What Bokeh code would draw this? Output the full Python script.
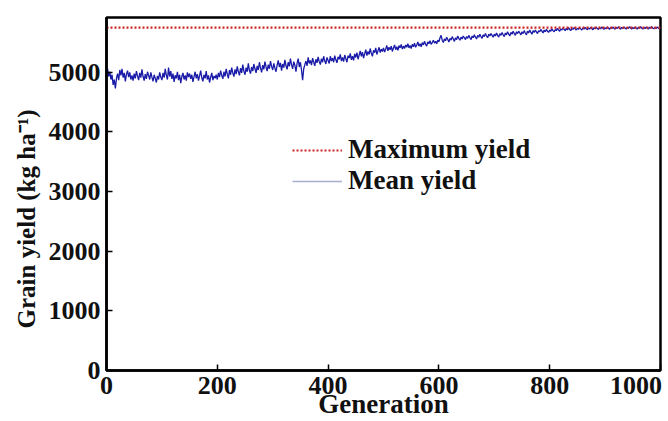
from bokeh.plotting import figure
from bokeh.models import Range1d, FixedTicker, Legend, LegendItem
from bokeh.embed import file_html
from bokeh.resources import INLINE

# ---- data ----
step = 2
mean_yield = [
    4990, 5060, 4930, 5010, 4880, 4960, 4790, 4880, 4730, 4900, 4980, 4870, 5040, 4950, 5060, 4910, 4990, 4850, 4970, 5030, 4920, 5000, 4880, 4950, 4860,
    4980, 4900, 5020, 4940, 4870, 4990, 4910, 5050, 4930, 4860, 4970, 4890, 5010, 4950, 4880, 5000, 4920, 4850, 4960, 4900, 4830, 4940, 4880, 5000, 4920,
    4870, 4990, 4910, 5060, 4950, 4880, 5080, 4930, 5020, 4890, 4980, 4840, 4950, 4900, 5010, 4870, 4960, 4820, 4930, 4990, 4880, 4950, 4860, 5000, 4920,
    4980, 4890, 4960, 4840, 4930, 5010, 4900, 4970, 4860, 4940, 5030, 4910, 4850, 4960, 4900, 5020, 4880, 4950, 4830, 4920, 4990, 4870, 4940, 4900, 4960,
    4880, 4990, 4920, 5030, 4950, 4890, 5010, 4930, 5060, 4970, 4900, 5040, 4960, 5080, 4990, 4930, 5050, 4970, 5100, 5010, 4950, 5070, 4990, 5130, 5020,
    4960, 5080, 5010, 5150, 5030, 4980, 5090, 5020, 5140, 5060, 4990, 5110, 5040, 5170, 5070, 5000, 5120, 5050, 5180, 5090, 5020, 5130, 5060, 5190, 5100,
    5040, 5150, 5070, 5010, 5120, 5200, 5090, 5160, 5030, 5140, 5080, 5210, 5110, 5050, 5170, 5100, 5230, 5130, 5060, 5180, 5120, 5010, 5150, 5230, 5090,
    5170, 5040, 4870, 5060, 5130, 5190, 5110, 5250, 5150, 5200, 5120, 5240, 5170, 5110, 5220, 5160, 5260, 5180, 5130, 5230, 5170, 5270, 5190, 5140, 5250,
    5200, 5150, 5270, 5190, 5240, 5170, 5280, 5210, 5160, 5260, 5220, 5300, 5190, 5250, 5180, 5290, 5230, 5170, 5280, 5240, 5320, 5210, 5270, 5200, 5310,
    5250, 5330, 5220, 5290, 5360, 5270, 5340, 5240, 5310, 5380, 5280, 5350, 5300, 5400, 5320, 5270, 5370, 5330, 5410, 5300, 5360, 5420, 5330, 5390, 5350,
    5410, 5340, 5390, 5450, 5360, 5420, 5380, 5440, 5350, 5410, 5460, 5380, 5430, 5370, 5450, 5410, 5470, 5390, 5440, 5400, 5460, 5420, 5480, 5410, 5450,
    5400, 5470, 5430, 5490, 5420, 5460, 5510, 5440, 5480, 5430, 5500, 5460, 5520, 5470, 5440, 5510, 5480, 5530, 5470, 5500, 5540, 5490, 5520, 5480, 5540,
    5510, 5580, 5620, 5540, 5500, 5560, 5530, 5590, 5550, 5510, 5570, 5540, 5600, 5560, 5520, 5580, 5550, 5610, 5570, 5540, 5590, 5560, 5610, 5580, 5550,
    5600, 5570, 5620, 5580, 5550, 5610, 5580, 5630, 5590, 5560, 5620, 5590, 5640, 5600, 5570, 5630, 5600, 5650, 5610, 5580, 5640, 5610, 5650, 5620, 5590,
    5640, 5610, 5660, 5620, 5590, 5650, 5620, 5670, 5630, 5600, 5660, 5630, 5680, 5640, 5610, 5670, 5640, 5690, 5650, 5620, 5680, 5650, 5690, 5660, 5630,
    5680, 5650, 5700, 5660, 5630, 5690, 5660, 5710, 5670, 5640, 5700, 5670, 5710, 5680, 5650, 5700, 5680, 5720, 5690, 5660, 5710, 5680, 5720, 5690, 5670,
    5710, 5690, 5730, 5700, 5680, 5720, 5700, 5740, 5710, 5690, 5730, 5710, 5740, 5720, 5700, 5740, 5710, 5750, 5720, 5700, 5740, 5720, 5750, 5730, 5710,
    5740, 5720, 5750, 5730, 5710, 5745, 5725, 5755, 5730, 5715, 5745, 5725, 5755, 5735, 5715, 5750, 5730, 5760, 5735, 5720, 5750, 5730, 5760, 5740, 5720,
    5750, 5730, 5760, 5740, 5720, 5755, 5735, 5760, 5740, 5725, 5755, 5735, 5765, 5740, 5725, 5755, 5735, 5760, 5745, 5725, 5755, 5735, 5765, 5745, 5725,
    5755, 5735, 5760, 5745, 5725, 5755, 5740, 5765, 5745, 5725, 5755, 5735, 5760, 5745, 5725, 5755, 5740, 5765, 5745, 5730, 5755, 5735, 5760, 5745, 5730,
    5750,
]
generations = [i * step for i in range(len(mean_yield))]
max_yield_value = 5750
max_gen = [0, 1000]
max_yield = [max_yield_value, max_yield_value]

x_ticks = [0, 200, 400, 600, 800, 1000]
y_ticks = [0, 1000, 2000, 3000, 4000, 5000]

FONT = "Liberation Serif"
TICK_FS = "26px"
LABEL_FS = "27px"
NBSP = "\u00a0"

p = figure(width=668, height=421, output_backend="svg", toolbar_location=None,
           x_range=Range1d(0, 1000), y_range=Range1d(0, 5920),
           min_border_left=106, min_border_top=17, min_border_right=8, min_border_bottom=49)

p.line(generations, mean_yield, line_color="#1a1aa8", line_width=1.3)
p.line(max_gen, max_yield, line_color="#cc2222", line_width=2.2, line_dash="2 2")

# legend sample glyphs (no visible data) styled as in the legend
nan = float("nan")
r_max = p.line([nan], [nan], line_color="#cc2222", line_width=2, line_dash="2 2")
r_mean = p.line([nan], [nan], line_color="#a8aed0", line_width=1.5)
legend = Legend(items=[LegendItem(label="Maximum yield", renderers=[r_max]),
                       LegendItem(label="Mean yield", renderers=[r_mean])],
                location=(186, 174), padding=0, margin=0, spacing=0,
                glyph_width=50, glyph_height=26, label_height=26, label_standoff=6,
                label_text_font=FONT, label_text_font_style="bold",
                label_text_font_size=LABEL_FS, label_text_color="#111111",
                background_fill_alpha=0, border_line_alpha=0)
p.add_layout(legend, "center")

p.xgrid.visible = False
p.ygrid.visible = False
p.outline_line_color = "black"
p.outline_line_width = 2.5
p.outline_line_alpha = 1

for ax in (p.xaxis[0], p.yaxis[0]):
    ax.axis_line_width = 2.5
    ax.axis_line_color = "black"
    ax.major_tick_in = 6
    ax.major_tick_out = 0
    ax.major_tick_line_width = 1.5
    ax.minor_tick_line_color = None
    ax.major_label_text_font = FONT
    ax.major_label_text_font_style = "bold"
    ax.major_label_text_font_size = TICK_FS
    ax.major_label_text_color = "#111111"
    ax.axis_label_text_font = FONT
    ax.axis_label_text_font_style = "bold"
    ax.axis_label_text_font_size = LABEL_FS
    ax.axis_label_text_color = "#111111"

p.xaxis.ticker = FixedTicker(ticks=x_ticks)
p.yaxis.ticker = FixedTicker(ticks=y_ticks)
p.xaxis.major_label_overrides = {x_ticks[-1]: str(x_ticks[-1]) + NBSP}
p.xaxis.major_label_standoff = 0
p.xaxis.axis_label_standoff = -14
p.yaxis.major_label_standoff = 6
p.yaxis.axis_label_standoff = 6
p.yaxis.axis_label_text_font_size = "25px"
p.xaxis.axis_label = "Generation"
p.yaxis.axis_label = "Grain yield (kg ha\u207b\u00b9)" + NBSP * 8

open("out.html", "w").write(file_html(p, INLINE))
